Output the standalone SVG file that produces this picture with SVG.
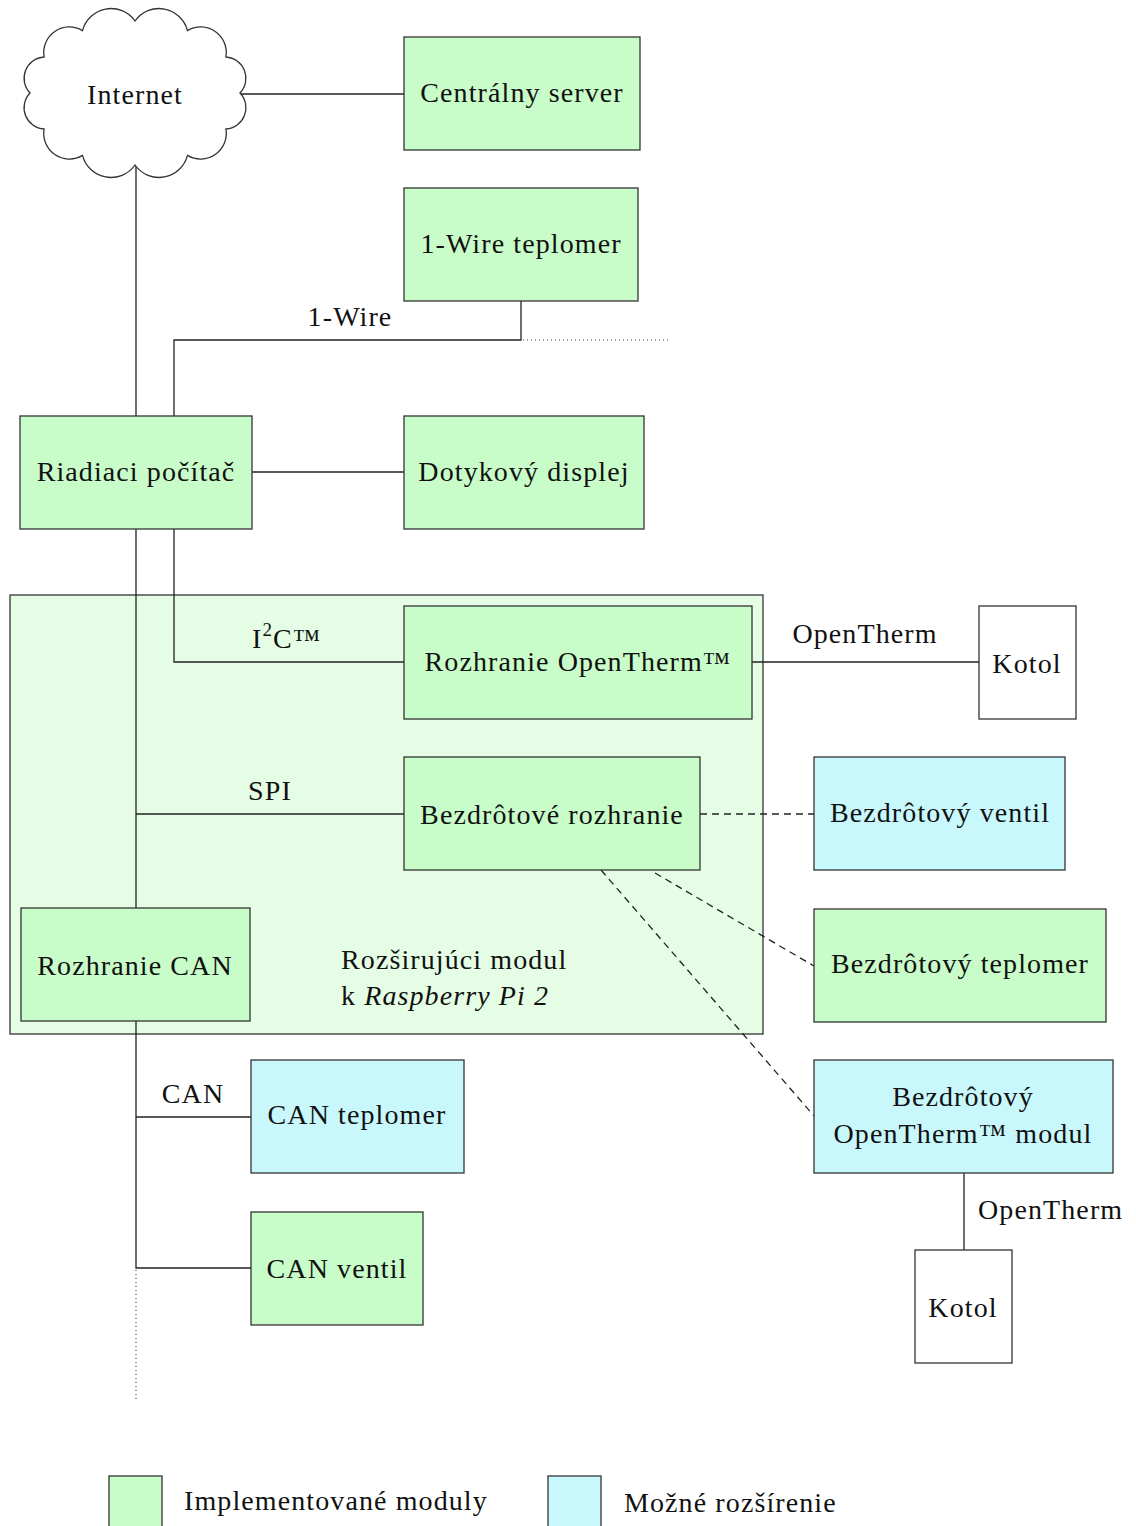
<svg xmlns="http://www.w3.org/2000/svg" width="1136" height="1526" viewBox="0 0 1136 1526">
<style>
text{font-family:"Liberation Serif","Times New Roman",serif;font-size:28px;letter-spacing:1.1px;fill:#111}
.c{text-anchor:middle}
.box{stroke:#333;stroke-width:1.3}
.g{fill:#c8fcc8}
.b{fill:#c8f8fc}
.w{fill:#fff}
.ln{stroke:#222;stroke-width:1.3;fill:none}
.dot{stroke:#444;stroke-width:1.2;stroke-dasharray:1 3;fill:none}
.dash{stroke:#222;stroke-width:1.3;stroke-dasharray:7 5;fill:none}
</style>
<rect width="1136" height="1526" fill="#fff"/>
<g id="modul">
<rect x="10" y="595" width="753" height="439" fill="#e4fde4" class="box"/>
<text x="341" y="969">Rozširujúci modul</text>
<text x="341" y="1005">k <tspan font-style="italic">Raspberry Pi 2</tspan></text>
</g>
<g id="connectors">
<path class="ln" d="M135,94H404"/>
<path class="ln" d="M136,150V416"/>
<path class="ln" d="M521,301V340H174V416"/>
<path class="dot" d="M523,340H670"/>
<path class="ln" d="M252,472H404"/>
<path class="ln" d="M136,529V908"/>
<path class="ln" d="M174,529V662H404"/>
<path class="ln" d="M136,814H404"/>
<path class="ln" d="M752,662H979"/>
<path class="dash" d="M700,814H814"/>
<path class="dash" d="M655,873L814,966"/>
<path class="dash" d="M601,870L814,1116"/>
<path class="ln" d="M964,1173V1250"/>
<path class="ln" d="M136,1021V1268H251"/>
<path class="ln" d="M136,1117H251"/>
<path class="dot" d="M136,1270V1400"/>
<text x="350" y="326" class="c">1-Wire</text>
<text x="252" y="648">I<tspan dy="-12" font-size="19">2</tspan><tspan dy="12">C™</tspan></text>
<text x="270" y="800" class="c">SPI</text>
<text x="865" y="643" class="c">OpenTherm</text>
<text x="193" y="1103" class="c">CAN</text>
<text x="978" y="1219">OpenTherm</text>
</g>
<g id="internet">
<path class="box w" d="M135,21A29.4,29.4 0 0 1 187.5,30.6A25.6,25.6 0 0 1 225.9,57A21.3,21.3 0 0 1 240,93A21.3,21.3 0 0 1 225.9,129A25.6,25.6 0 0 1 187.5,155.4A29.4,29.4 0 0 1 135,165A29.4,29.4 0 0 1 82.5,155.4A25.6,25.6 0 0 1 44.1,129A21.3,21.3 0 0 1 30,93A21.3,21.3 0 0 1 44.1,57A25.6,25.6 0 0 1 82.5,30.6A29.4,29.4 0 0 1 135,21Z"/>
<text x="135" y="104" class="c">Internet</text>
</g>
<g id="server"><rect x="404" y="37" width="236" height="113" class="box g"/><text x="522" y="102" class="c">Centrálny server</text></g>
<g id="wire"><rect x="404" y="188" width="234" height="113" class="box g"/><text x="521" y="253" class="c">1-Wire teplomer</text></g>
<g id="riadiaci"><rect x="20" y="416" width="232" height="113" class="box g"/><text x="136" y="481" class="c">Riadiaci počítač</text></g>
<g id="displej"><rect x="404" y="416" width="240" height="113" class="box g"/><text x="524" y="481" class="c">Dotykový displej</text></g>
<g id="ot"><rect x="404" y="606" width="348" height="113" class="box g"/><text x="578" y="671" class="c">Rozhranie OpenTherm™</text></g>
<g id="kotol1"><rect x="979" y="606" width="97" height="113" class="box w"/><text x="1027" y="673" class="c">Kotol</text></g>
<g id="bezrozh"><rect x="404" y="757" width="296" height="113" class="box g"/><text x="552" y="824" class="c">Bezdrôtové rozhranie</text></g>
<g id="ventil"><rect x="814" y="757" width="251" height="113" class="box b"/><text x="940" y="822" class="c">Bezdrôtový ventil</text></g>
<g id="bezteplomer"><rect x="814" y="909" width="292" height="113" class="box g"/><text x="960" y="973" class="c">Bezdrôtový teplomer</text></g>
<g id="bezot"><rect x="814" y="1060" width="299" height="113" class="box b"/><text x="963" y="1106" class="c">Bezdrôtový</text><text x="963" y="1143" class="c">OpenTherm™ modul</text></g>
<g id="kotol2"><rect x="915" y="1250" width="97" height="113" class="box w"/><text x="963" y="1317" class="c">Kotol</text></g>
<g id="can"><rect x="21" y="908" width="229" height="113" class="box g"/><text x="135" y="975" class="c">Rozhranie CAN</text></g>
<g id="canteplomer"><rect x="251" y="1060" width="213" height="113" class="box b"/><text x="357" y="1124" class="c">CAN teplomer</text></g>
<g id="canventil"><rect x="251" y="1212" width="172" height="113" class="box g"/><text x="337" y="1278" class="c">CAN ventil</text></g>
<g id="legend">
<rect x="109" y="1476" width="53" height="60" class="box g"/>
<text x="184" y="1510">Implementované moduly</text>
<rect x="548" y="1476" width="53" height="60" class="box b"/>
<text x="624" y="1512">Možné rozšírenie</text>
</g>
</svg>
